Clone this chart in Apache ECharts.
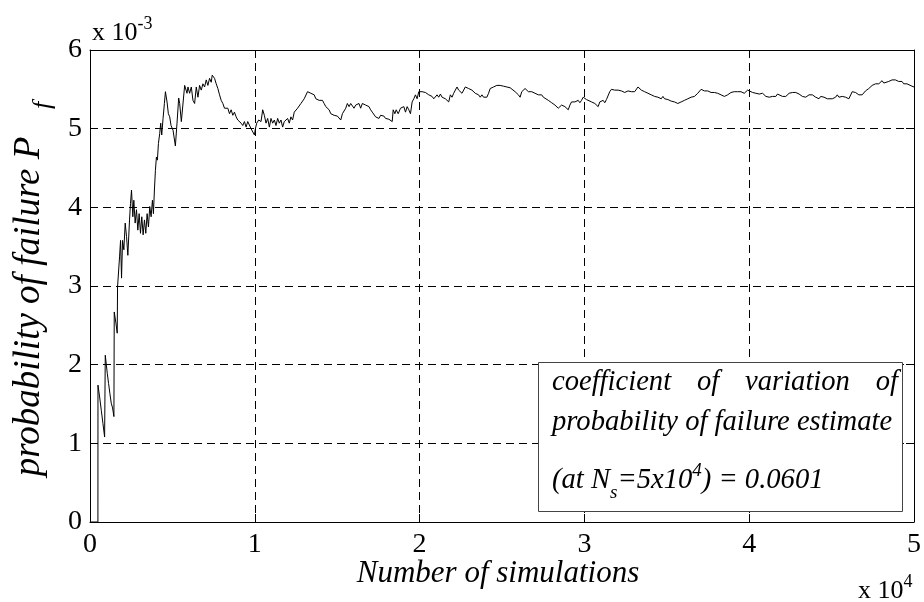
<!DOCTYPE html>
<html>
<head>
<meta charset="utf-8">
<script src="https://cdn.jsdelivr.net/npm/echarts@6/dist/echarts.min.js"></script>
<style>
  html, body { margin: 0; padding: 0; background: #fff; }
  #chart { width: 924px; height: 602px; }
</style>
</head>
<body>
<div id="chart"></div>
<script>
// Running Monte Carlo estimate of the probability of failure.
// simulations: number of samples drawn; pfE3: estimate in units of 10^-3.
const simulations = [
  1, 480, 484, 584, 685, 786, 887, 927, 1048, 1128, 1209, 1290, 1370, 1451, 1471, 1572, 1652, 1672,
  1793, 1854, 1914, 1975, 2055, 2136, 2216, 2297, 2398, 2458, 2519, 2599, 2660, 2740, 2821, 2902,
  2982, 3063, 3143, 3224, 3305, 3385, 3466, 3546, 3627, 3707, 3788, 3849, 3909, 3969, 4030, 4090,
  4151, 4231, 4292, 4352, 4433, 4514, 4577, 4675, 4755, 4837, 4917, 5039, 5181, 5280, 5381, 5442,
  5542, 5643, 5744, 5804, 5885, 5945, 6046, 6147, 6248, 6348, 6449, 6550, 6650, 6751, 6852, 6953,
  7053, 7154, 7255, 7356, 7416, 7557, 7658, 7759, 7860, 7960, 8061, 8162, 8263, 8363, 8464, 8565,
  8666, 8766, 8867, 8968, 9069, 9169, 9270, 9371, 9472, 9572, 9673, 9774, 9875, 9976, 10036, 10116,
  10237, 10378, 10479, 10580, 10681, 10782, 10883, 10983, 11084, 11185, 11286, 11386, 11487, 11588,
  11689, 11789, 11890, 11991, 12092, 12192, 12293, 12394, 12495, 12595, 12696, 12797, 12898, 12998,
  13099, 13200, 13301, 13401, 13502, 13603, 13704, 13804, 13905, 14006, 14107, 14207, 14308, 14409,
  14510, 14610, 14711, 14812, 14913, 15013, 15114, 15215, 15316, 15416, 15517, 15618, 15719, 15819,
  15920, 16021, 16122, 16222, 16323, 16424, 16525, 16625, 16726, 16827, 16928, 17028, 17129, 17230,
  17331, 17431, 17532, 17633, 17734, 17834, 17935, 18036, 18137, 18237, 18338, 18398, 18499, 18580,
  18701, 18842, 18943, 19043, 19144, 19245, 19346, 19446, 19547, 19648, 19749, 19849, 19950, 20051,
  20151, 20252, 20353, 20454, 20557, 20657, 20758, 20859, 20960, 21060, 21161, 21262, 21363, 21463,
  21564, 21665, 21766, 21866, 21967, 22068, 22169, 22269, 22370, 22471, 22572, 22672, 22773, 22874,
  22975, 23075, 23176, 23277, 23378, 23478, 23579, 23680, 23781, 23881, 23982, 24083, 24184, 24284,
  24385, 24486, 24587, 24687, 24788, 24889, 24990, 25090, 25191, 25292, 25393, 25493, 25594, 25796,
  25997, 26098, 26199, 26299, 26400, 26501, 26602, 26803, 26904, 27005, 27105, 27206, 27408, 27508,
  27609, 27811, 28012, 28214, 28415, 28516, 28617, 28717, 28818, 28919, 29020, 29120, 29221, 29322,
  29423, 29523, 29624, 29725, 29826, 29926, 30027, 30129, 30230, 30431, 30633, 30834, 30935, 31036,
  31136, 31237, 31338, 31439, 31539, 31640, 31741, 31842, 31942, 32043, 32144, 32245, 32345, 32446,
  32547, 32648, 32748, 32849, 32950, 33051, 33151, 33252, 33454, 33655, 33857, 34058, 34159, 34260,
  34461, 34663, 34763, 34864, 35066, 35267, 35469, 35670, 35771, 35872, 35972, 36073, 36174, 36275,
  36375, 36476, 36577, 36678, 36778, 36879, 36980, 37081, 37181, 37282, 37484, 37584, 37685, 37786,
  37887, 38088, 38290, 38491, 38693, 38793, 38894, 39096, 39196, 39297, 39398, 39499, 39599, 39700,
  39801, 39903, 40004, 40206, 40407, 40609, 40810, 41012, 41213, 41314, 41415, 41515, 41616, 41717,
  41818, 42019, 42221, 42422, 42523, 42624, 42825, 43027, 43228, 43430, 43631, 43732, 43833, 44034,
  44236, 44336, 44437, 44538, 44739, 44840, 45042, 45243, 45344, 45445, 45646, 45848, 46049, 46150,
  46251, 46351, 46452, 46654, 46754, 46855, 46956, 47057, 47157, 47258, 47359, 47460, 47560, 47661,
  47762, 47863, 47963, 48064, 48165, 48266, 48467, 48568, 48669, 48769, 48870, 48971, 49072, 49172,
  49273, 49374, 49475, 49575, 49676, 49877, 50000
];
const pfE3 = [
  0, 0, 1.74, 1.59, 1.42, 1.25, 1.08, 2.12, 1.89, 1.76, 1.63, 1.51, 1.45, 1.34, 2.67, 2.53, 2.40, 2.99,
  3.37, 3.58, 3.10, 3.58, 3.46, 3.80, 3.63, 3.39, 3.84, 4.05, 4.22, 3.88, 4.09, 3.80, 3.97, 3.71,
  3.92, 3.67, 3.88, 3.65, 3.84, 3.67, 3.92, 3.75, 4.01, 3.88, 4.09, 3.92, 4.22, 4.47, 4.64, 4.60,
  4.81, 4.94, 5.07, 4.92, 5.13, 5.32, 5.47, 5.34, 5.19, 5.15, 5.04, 4.98, 4.78, 5.07, 5.39, 5.32,
  5.09, 5.09, 5.55, 5.53, 5.45, 5.53, 5.45, 5.53, 5.36, 5.32, 5.53, 5.40, 5.55, 5.49, 5.57, 5.53,
  5.62, 5.55, 5.64, 5.59, 5.68, 5.64, 5.57, 5.51, 5.43, 5.36, 5.32, 5.26, 5.24, 5.26, 5.19, 5.24,
  5.17, 5.21, 5.15, 5.11, 5.13, 5.07, 5.04, 5.09, 5.02, 5.09, 5.07, 5.00, 4.98, 4.92, 5.00, 5.07,
  5.11, 5.09, 5.24, 5.17, 5.07, 5.13, 5.02, 5.13, 5.07, 5.11, 5.04, 5.13, 5.07, 5.11,
  5.02, 5.09, 5.07, 5.13, 5.07, 5.15, 5.11, 5.21, 5.19, 5.26, 5.24, 5.32, 5.30, 5.38,
  5.40, 5.47, 5.49, 5.45, 5.47, 5.43, 5.38, 5.40, 5.36, 5.34, 5.36, 5.32, 5.28, 5.26,
  5.24, 5.19, 5.21, 5.17, 5.19, 5.16, 5.17, 5.11, 5.19, 5.21, 5.26, 5.32, 5.28, 5.32,
  5.30, 5.26, 5.30, 5.28, 5.32, 5.26, 5.32, 5.34, 5.30, 5.32, 5.28, 5.24, 5.21, 5.19,
  5.15, 5.17, 5.13, 5.17, 5.15, 5.16, 5.13, 5.15, 5.12, 5.11, 5.09, 5.24, 5.19, 5.24,
  5.19, 5.26, 5.24, 5.28, 5.21, 5.28, 5.24, 5.19, 5.34, 5.38, 5.43, 5.38, 5.47, 5.49,
  5.47, 5.49, 5.46, 5.47, 5.43, 5.45, 5.41, 5.38, 5.40, 5.43, 5.40, 5.44, 5.40, 5.41,
  5.38, 5.36, 5.34, 5.43, 5.40, 5.45, 5.47, 5.53, 5.49, 5.47, 5.45, 5.47, 5.53, 5.55,
  5.51, 5.49, 5.49, 5.47, 5.45, 5.43, 5.43, 5.40, 5.43, 5.40, 5.38, 5.40, 5.45, 5.51,
  5.49, 5.53, 5.52, 5.55, 5.54, 5.55, 5.53, 5.54, 5.55, 5.53, 5.51, 5.52, 5.50, 5.47,
  5.43, 5.40, 5.47, 5.49, 5.51, 5.49, 5.47, 5.47, 5.45, 5.45, 5.43, 5.43, 5.43, 5.40,
  5.38, 5.36, 5.33, 5.30, 5.26, 5.28, 5.30, 5.28, 5.28, 5.26, 5.24, 5.30, 5.34, 5.36,
  5.34, 5.35, 5.36, 5.33, 5.36, 5.40, 5.38, 5.37, 5.36, 5.34, 5.32, 5.28, 5.34, 5.33,
  5.36, 5.33, 5.37, 5.38, 5.47, 5.50, 5.48, 5.49, 5.48, 5.49, 5.47, 5.48, 5.47, 5.46,
  5.47, 5.48, 5.46, 5.47, 5.48, 5.47, 5.45, 5.53, 5.49, 5.47, 5.45, 5.43, 5.44, 5.41,
  5.40, 5.38, 5.41, 5.38, 5.37, 5.35, 5.34, 5.32, 5.33, 5.34, 5.32, 5.36, 5.34, 5.38,
  5.36, 5.40, 5.38, 5.41, 5.40, 5.45, 5.47, 5.50, 5.49, 5.48, 5.48, 5.47, 5.46, 5.47,
  5.46, 5.45, 5.43, 5.41, 5.43, 5.45, 5.46, 5.47, 5.48, 5.47, 5.49, 5.47, 5.46, 5.45,
  5.47, 5.49, 5.47, 5.46, 5.45, 5.44, 5.45, 5.41, 5.40, 5.40, 5.41, 5.43, 5.41, 5.44,
  5.43, 5.41, 5.41, 5.45, 5.47, 5.46, 5.46, 5.44, 5.41, 5.40, 5.43, 5.45, 5.43, 5.40,
  5.38, 5.41, 5.43, 5.40, 5.38, 5.37, 5.38, 5.40, 5.43, 5.40, 5.41, 5.40, 5.38, 5.40,
  5.47, 5.45, 5.46, 5.43, 5.41, 5.43, 5.45, 5.48, 5.47, 5.51, 5.53, 5.55, 5.54, 5.57,
  5.55, 5.57, 5.57, 5.61, 5.58, 5.57, 5.60, 5.61, 5.62, 5.61, 5.62, 5.61, 5.60, 5.61,
  5.60, 5.57, 5.58, 5.57, 5.55, 5.54, 5.53
];

const xTickValues = [0, 10000, 20000, 30000, 40000, 50000];   // labelled 0..5 (x 10^4)
const yTickValues = [0, 1, 2, 3, 4, 5, 6];                     // labelled in units of 10^-3

const SERIF = '"Liberation Serif", "Times New Roman", serif';
const tickFont = { fontFamily: SERIF, fontSize: 28, color: '#000' };

// Measure text so that sub/superscript runs can be laid out piece by piece.
const measureCtx = document.createElement('canvas').getContext('2d');
function fontStr(size, italic) {
  return (italic ? 'italic ' : '') + size + 'px ' + SERIF;
}
function textWidth(str, size, italic) {
  measureCtx.font = fontStr(size, italic);
  return measureCtx.measureText(str).width;
}
// Lay out a run of text pieces on a common baseline; shift > 0 lowers (subscript).
function textRun(parts, x, baseline, italic) {
  const els = [];
  let cx = x;
  parts.forEach(p => {
    const size = p.size;
    els.push({
      type: 'text',
      x: cx,
      y: baseline + (p.shift || 0) - 0.3375 * size,
      style: {
        text: p.t,
        font: fontStr(size, italic),
        fill: '#000',
        align: 'left',
        verticalAlign: 'middle'
      }
    });
    cx += textWidth(p.t, size, italic);
  });
  return { els, width: cx - x };
}
function runWidth(parts, italic) {
  return parts.reduce((s, p) => s + textWidth(p.t, p.size, italic), 0);
}

const graphics = [];

// Exponent note above the y axis: x 10^-3
graphics.push(...textRun([
  { t: 'x 10', size: 26 },
  { t: '-3', size: 18, shift: -12 }
], 92, 42, false).els);

// Exponent note below the x axis: x 10^4
graphics.push(...textRun([
  { t: 'x 10', size: 26 },
  { t: '4', size: 18, shift: -12 }
], 858, 600, false).els);

// x-axis title
{
  const parts = [{ t: 'Number of simulations', size: 31 }];
  const w = runWidth(parts, true);
  graphics.push(...textRun(parts, 498 - w / 2, 584, true).els);
}

// y-axis title, rotated to read bottom-to-top
{
  const parts = [
    { t: 'probability of failure P', size: 37 },
    { t: '   ', size: 37 },
    { t: 'f', size: 26, shift: 10 }
  ];
  const w = runWidth(parts, true);
  graphics.push({
    type: 'group',
    x: 42,
    y: 289,
    rotation: Math.PI / 2,
    children: textRun(parts, -w / 2, 0, true).els
  });
}

// Annotation box with the coefficient of variation
{
  const boxX = 538, boxY = 362, boxW = 364, boxH = 149;
  graphics.push({
    type: 'rect',
    shape: { x: boxX + 0.5, y: boxY + 0.5, width: boxW, height: boxH },
    style: { fill: '#fff', stroke: '#444', lineWidth: 1 },
    z: 10
  });
  const left = 552, right = 898, size = 28.6;
  // first line, justified across the box
  const words = ['coefficient', 'of', 'variation', 'of'];
  const wsum = words.reduce((s, w) => s + textWidth(w, size, true), 0);
  const gap = (right - left - wsum) / (words.length - 1);
  let cx = left;
  words.forEach(w => {
    textRun([{ t: w, size }], cx, 392, true).els.forEach(e => { e.z = 11; graphics.push(e); });
    cx += textWidth(w, size, true) + gap;
  });
  textRun([{ t: 'probability of failure estimate', size }], left, 432, true)
    .els.forEach(e => { e.z = 11; graphics.push(e); });
  textRun([
    { t: '(at N', size },
    { t: 's', size: 19, shift: 9 },
    { t: '=5x10', size },
    { t: '4', size: 19, shift: -13 },
    { t: ') = 0.0601', size }
  ], left, 490, true).els.forEach(e => { e.z = 11; graphics.push(e); });
}

const gridLine = { show: true, lineStyle: { color: '#000', type: [8, 5], width: 1 } };
const axisBlack = { show: true, onZero: false, lineStyle: { color: '#000', width: 1 } };
const tickIn = { show: true, inside: true, length: 8, lineStyle: { color: '#000', width: 1 } };

const chart = echarts.init(document.getElementById('chart'), null, { renderer: 'canvas' });
chart.setOption({
  animation: false,
  backgroundColor: '#fff',
  grid: { left: 90, right: 7, top: 50, bottom: 80, containLabel: false },
  xAxis: [
    {
      type: 'value', position: 'bottom',
      min: xTickValues[0], max: xTickValues[xTickValues.length - 1], interval: 10000,
      axisLine: axisBlack, axisTick: tickIn, splitLine: gridLine,
      axisLabel: Object.assign({ margin: 9, formatter: v => String(v / 10000) }, tickFont)
    },
    {
      type: 'value', position: 'top',
      min: xTickValues[0], max: xTickValues[xTickValues.length - 1], interval: 10000,
      axisLine: axisBlack, axisTick: tickIn, splitLine: { show: false }, axisLabel: { show: false }
    }
  ],
  yAxis: [
    {
      type: 'value', position: 'left',
      min: yTickValues[0], max: yTickValues[yTickValues.length - 1], interval: 1,
      axisLine: axisBlack, axisTick: tickIn, splitLine: gridLine,
      axisLabel: Object.assign({ margin: 8 }, tickFont)
    },
    {
      type: 'value', position: 'right',
      min: yTickValues[0], max: yTickValues[yTickValues.length - 1], interval: 1,
      axisLine: axisBlack, axisTick: tickIn, splitLine: { show: false }, axisLabel: { show: false }
    }
  ],
  series: [{
    type: 'line',
    data: simulations.map((n, i) => [n, pfE3[i]]),
    showSymbol: false,
    symbol: 'none',
    lineStyle: { color: '#000', width: 1 },
    z: 3
  }],
  graphic: graphics
});
</script>
</body>
</html>
